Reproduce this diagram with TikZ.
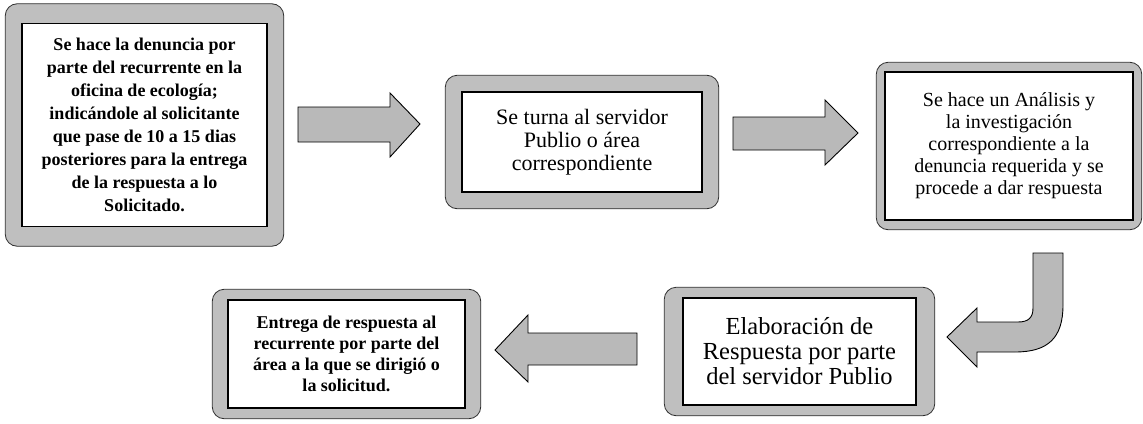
\documentclass[tikz,border=0pt]{standalone}
\usepackage{fontspec}
\setmainfont{Liberation Serif}
\usetikzlibrary{fit,backgrounds}

\tikzset{
  paso/.style={draw=black, line width=1.5pt, fill=white, align=center, inner sep=2pt},
  marco/.style={draw=gray!35!black, line width=0.8pt, fill=gray!50, rounded corners=12pt},
  flecha/.style={draw=black, line width=0.9pt, fill=gray!55, line join=miter},
}

\begin{document}
\begin{tikzpicture}[x=1pt, y=-1pt]
\useasboundingbox (0,0) rectangle (1143,423);

% pasos del tramite
\node[paso, minimum width=245pt, minimum height=203pt, font=\fontsize{18}{23}\selectfont\bfseries] (denuncia) at (144.5,125)
  {Se hace la denuncia por\\ parte del recurrente en la\\ oficina de ecología;\\ indicándole al solicitante\\ que pase de 10 a 15 dias\\ posteriores para la entrega\\ de la respuesta a lo\\ Solicitado.};
\node[paso, minimum width=240pt, minimum height=100pt, font=\fontsize{22}{23}\selectfont] (turno) at (582,142)
  {Se turna al servidor\\ Publio o área\\ correspondiente};
\node[paso, minimum width=248pt, minimum height=148pt, font=\fontsize{20}{22}\selectfont] (analisis) at (1009,146)
  {Se hace un Análisis y\\ la investigación\\ correspondiente a la\\ denuncia requerida y se\\ procede a dar respuesta};
\node[paso, minimum width=233pt, minimum height=107pt, font=\fontsize{24.5}{25}\selectfont] (elaboracion) at (799.5,351.5)
  {Elaboración de\\ Respuesta por parte\\ del servidor Publio};
\node[paso, minimum width=237pt, minimum height=108pt, font=\fontsize{18}{21}\selectfont\bfseries] (entrega) at (346.5,354)
  {Entrega de respuesta al\\ recurrente por parte del\\ área a la que se dirigió o\\ la solicitud.};

% marcos grises
\begin{scope}[on background layer]
  \node[marco, fit=(denuncia), inner xsep=16pt, inner ysep=19pt] (mdenuncia) {};
  \node[marco, fit=(turno), inner xsep=16pt, inner ysep=16pt] (mturno) {};
  \node[marco, fit=(analisis), inner xsep=8pt, inner ysep=9pt] (manalisis) {};
  \node[marco, fit=(elaboracion), inner xsep=18pt, inner ysep=10pt] (melaboracion) {};
  \node[marco, fit=(entrega), inner xsep=15pt, inner ysep=10pt] (mentrega) {};
\end{scope}

% flechas
\draw[flecha] (298,107) -- (390,107) -- (390,93) -- (420,124) -- (390,157) -- (390,142) -- (298,142) -- cycle;
\draw[flecha] (733,117) -- (825,117) -- (825,100) -- (858,133) -- (825,165) -- (825,150) -- (733,150) -- cycle;
\draw[flecha] (1033,253) -- (1063,253) -- (1063,305) .. controls (1063,338) and (1048,352) .. (1015,352)
  -- (977,352) -- (977,367) -- (947,337) -- (977,308) -- (977,322) -- (1018,322)
  .. controls (1028,322) and (1033,318) .. (1033,308) -- cycle;
\draw[flecha] (637,333) -- (528,333) -- (528,315) -- (495,350) -- (528,382) -- (528,365) -- (637,365) -- cycle;
\end{tikzpicture}
\end{document}
